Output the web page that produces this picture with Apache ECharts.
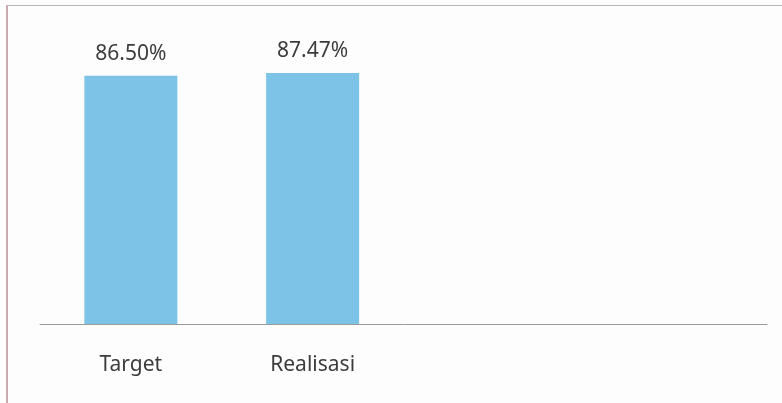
<!DOCTYPE html>
<html>
<head>
<meta charset="utf-8">
<script src="https://cdn.jsdelivr.net/npm/echarts@6/dist/echarts.min.js"></script>
<style>
html,body{margin:0;padding:0;background:#fdfdfd;}
#frame{position:absolute;left:0;top:0;width:782px;height:403px;}
#borderTop{position:absolute;left:7px;top:5px;width:775px;height:1px;background:#b5b5b5;}
#borderLeft{position:absolute;left:6px;top:5px;width:2px;height:398px;background:#c9a9ad;}
#chart{position:absolute;left:0;top:0;width:782px;height:403px;}
</style>
</head>
<body>
<div id="frame">
<div id="chart"></div>
<div id="borderTop"></div>
<div id="borderLeft"></div>
</div>
<script>
var categories = ['Target', 'Realisasi', '', ''];
var values = [86.50, 87.47, null, null];
var yMin = 0;
var yMax = 100;

var chart = echarts.init(document.getElementById('chart'));
chart.setOption({
  animation: false,
  grid: { left: 40, right: 15, top: 37, bottom: 79 },
  xAxis: {
    type: 'category',
    data: categories,
    axisTick: { show: false },
    axisLine: { lineStyle: { color: '#9a9a9a', width: 1 } },
    axisLabel: { color: '#3c3c3c', fontSize: 21, fontFamily: 'Noto Sans', margin: 31 }
  },
  yAxis: {
    type: 'value',
    min: yMin,
    max: yMax,
    show: false,
    splitLine: { show: false }
  },
  series: [{
    type: 'bar',
    data: values,
    barWidth: 93,
    itemStyle: { color: '#7cc3e7' },
    label: {
      show: true,
      position: 'top',
      distance: 11,
      color: '#3c3c3c',
      fontSize: 21,
      fontFamily: 'Noto Sans',
      formatter: function (p) { return p.value.toFixed(2) + '%'; }
    }
  }]
});
</script>
</body>
</html>
